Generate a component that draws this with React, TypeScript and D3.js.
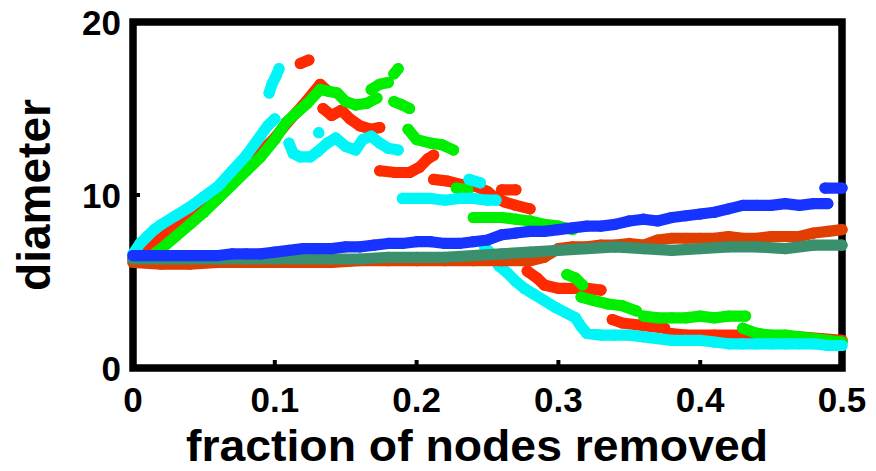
import React from 'react';
import * as d3 from 'd3';

type Pt = [number, number] | null;

// ---- axis ticks ----
const xTicks = [0, 0.1, 0.2, 0.3, 0.4, 0.5];
const xTickLabels = ['0', '0.1', '0.2', '0.3', '0.4', '0.5'];
const yTicks = [0, 10, 20];
const yTickLabels = ['0', '10', '20'];
const xTitle = 'fraction of nodes removed';
const yTitle = 'diameter';

// ---- series (null = gap between runs of markers) ----
const redAttack: Pt[] = [
  [0, 6.3], [0.01, 6.9], [0.02, 7.5], [0.03, 8.2], [0.04, 8.9], [0.05, 9.6], [0.06, 10.3], [0.07, 11.0],
  [0.08, 11.7], [0.09, 12.5], [0.1, 13.3], [0.11, 14.3], [0.12, 15.2], [0.127, 15.9], [0.132, 16.4], [0.136, 16.1],
  null,
  [0.118, 17.6], [0.124, 17.8],
  null,
  [0.134, 15.0], [0.14, 14.6], [0.147, 14.9], [0.153, 14.4], [0.16, 14.0], [0.168, 13.8], [0.174, 13.9],
  null,
  [0.174, 11.4], [0.185, 11.3], [0.195, 11.3], [0.202, 11.6], [0.208, 12.1], [0.212, 12.3],
  null,
  [0.212, 10.9], [0.222, 10.8], [0.232, 10.6], [0.242, 10.5], [0.25, 10.2], [0.256, 9.8], [0.262, 9.6],
  [0.27, 9.4], [0.28, 9.2],
  null,
  [0.26, 10.3], [0.27, 10.3],
  null,
  [0.278, 5.6], [0.285, 5.2], [0.29, 4.8], [0.3, 4.6], [0.31, 4.6], [0.32, 4.6], [0.33, 4.5],
  null,
  [0.338, 2.8], [0.345, 2.6], [0.355, 2.5], [0.365, 2.4], [0.375, 2.3],
  null,
  [0.378, 2.0], [0.39, 1.9], [0.41, 1.9], [0.43, 1.9], [0.45, 1.8], [0.47, 1.8], [0.485, 1.7], [0.5, 1.6],
];

const greenAttack: Pt[] = [
  [0.01, 6.3], [0.02, 6.9], [0.03, 7.6], [0.04, 8.3], [0.05, 9.0], [0.06, 9.8], [0.07, 10.6], [0.08, 11.4],
  [0.09, 12.2], [0.1, 13.2], [0.108, 14.2], [0.116, 14.8], [0.123, 15.3], [0.132, 16.1], [0.138, 16.0],
  [0.144, 15.9], [0.15, 15.4], [0.157, 15.2], [0.165, 15.3], [0.172, 15.6],
  null,
  [0.168, 16.1], [0.174, 16.4], [0.18, 16.5],
  null,
  [0.184, 17.0], [0.187, 17.3],
  null,
  [0.184, 15.4], [0.19, 15.2], [0.195, 15.0],
  null,
  [0.194, 13.8], [0.2, 13.2], [0.21, 13.0], [0.218, 12.9], [0.226, 12.6],
  null,
  [0.228, 10.4], [0.236, 10.3],
  null,
  [0.24, 8.7], [0.25, 8.7], [0.26, 8.7], [0.27, 8.6], [0.28, 8.5], [0.29, 8.3], [0.3, 8.2], [0.31, 8.0],
  null,
  [0.306, 5.4], [0.312, 5.2], [0.317, 4.8],
  null,
  [0.316, 4.1], [0.325, 3.9], [0.335, 3.7], [0.345, 3.6], [0.355, 3.3],
  null,
  [0.36, 3.0], [0.37, 2.9], [0.38, 2.9], [0.39, 2.9], [0.4, 3.0], [0.41, 2.9], [0.42, 3.0], [0.432, 3.0],
  null,
  [0.43, 2.3], [0.44, 2.0], [0.45, 1.9], [0.46, 1.9], [0.47, 1.8], [0.48, 1.7], [0.49, 1.6], [0.5, 1.5],
];

const cyanAttack: Pt[] = [
  [0, 6.6], [0.005, 7.2], [0.01, 7.6], [0.015, 8.0], [0.02, 8.3], [0.03, 8.8], [0.04, 9.3], [0.05, 9.9],
  [0.06, 10.5], [0.07, 11.4], [0.08, 12.3], [0.088, 13.2], [0.095, 14.0], [0.1, 14.4],
  null,
  [0.096, 15.9], [0.098, 16.4], [0.101, 16.9], [0.103, 17.3],
  null,
  [0.11, 13.0], [0.113, 12.4], [0.118, 12.2], [0.125, 12.2], [0.13, 12.5], [0.137, 13.0], [0.143, 13.3],
  [0.15, 12.8], [0.157, 12.6], [0.162, 13.2], [0.168, 13.4], [0.174, 13.0], [0.18, 12.7], [0.187, 12.6],
  null,
  [0.131, 13.6],
  null,
  [0.19, 9.8], [0.2, 9.8], [0.21, 9.8], [0.22, 9.7], [0.23, 9.8], [0.24, 9.8], [0.25, 9.7], [0.256, 9.7],
  null,
  [0.237, 10.9], [0.245, 10.7],
  null,
  [0.248, 7.0], [0.254, 6.5], [0.258, 5.9], [0.264, 5.5], [0.27, 5.0], [0.276, 4.6], [0.282, 4.3],
  [0.29, 3.9], [0.298, 3.5], [0.305, 3.2], [0.312, 2.9], [0.316, 2.4], [0.32, 2.0], [0.33, 1.9], [0.34, 1.9],
  [0.35, 1.9], [0.36, 1.8], [0.37, 1.7], [0.38, 1.6], [0.39, 1.6], [0.4, 1.6], [0.41, 1.5], [0.42, 1.4],
  [0.43, 1.4], [0.44, 1.4], [0.45, 1.4], [0.46, 1.4], [0.47, 1.4], [0.48, 1.4], [0.49, 1.3], [0.5, 1.3],
];

const orangeFailure: Pt[] = [
  [0, 6.1], [0.02, 6.0], [0.04, 6.0], [0.06, 6.1], [0.08, 6.1], [0.1, 6.1], [0.12, 6.1], [0.14, 6.1],
  [0.16, 6.2], [0.18, 6.2], [0.2, 6.2], [0.22, 6.2], [0.24, 6.2], [0.26, 6.2], [0.28, 6.2], [0.29, 6.4],
  [0.3, 6.9], [0.31, 7.0], [0.32, 7.0], [0.33, 7.1], [0.34, 7.1], [0.35, 7.2], [0.36, 7.1], [0.37, 7.4],
  [0.38, 7.5], [0.39, 7.5], [0.4, 7.5], [0.41, 7.5], [0.42, 7.6], [0.43, 7.5], [0.44, 7.5], [0.45, 7.6],
  [0.46, 7.6], [0.47, 7.6], [0.48, 7.8], [0.49, 7.9], [0.5, 8.0],
];

const tealFailure: Pt[] = [
  [0, 6.3], [0.02, 6.3], [0.04, 6.3], [0.06, 6.3], [0.08, 6.3], [0.1, 6.3], [0.12, 6.3], [0.14, 6.3],
  [0.16, 6.3], [0.18, 6.4], [0.2, 6.4], [0.22, 6.4], [0.24, 6.5], [0.26, 6.6], [0.28, 6.7], [0.3, 6.8],
  [0.32, 6.9], [0.34, 7.0], [0.36, 6.9], [0.38, 6.8], [0.4, 6.9], [0.42, 7.0], [0.44, 7.0], [0.46, 6.9],
  [0.48, 7.1], [0.5, 7.1],
];

const blueFailure: Pt[] = [
  [0, 6.5], [0.02, 6.5], [0.04, 6.5], [0.06, 6.5], [0.07, 6.6], [0.08, 6.6], [0.09, 6.6], [0.1, 6.7],
  [0.11, 6.8], [0.12, 6.9], [0.13, 6.9], [0.14, 6.9], [0.15, 7.0], [0.16, 7.0], [0.17, 7.1], [0.18, 7.2],
  [0.19, 7.2], [0.2, 7.3], [0.21, 7.3], [0.22, 7.2], [0.23, 7.2], [0.24, 7.3], [0.25, 7.4], [0.26, 7.7],
  [0.27, 7.8], [0.28, 7.9], [0.29, 7.9], [0.3, 8.0], [0.31, 8.1], [0.32, 8.2], [0.33, 8.2], [0.34, 8.3],
  [0.35, 8.5], [0.36, 8.6], [0.37, 8.5], [0.38, 8.7], [0.39, 8.8], [0.4, 8.9], [0.41, 9.0], [0.42, 9.2],
  [0.43, 9.4], [0.44, 9.4], [0.45, 9.4], [0.46, 9.5], [0.47, 9.4], [0.48, 9.5], [0.49, 9.5],
  null,
  [0.488, 10.4], [0.5, 10.4],
];

const seriesList = [
  { name: 'attack-red', color: '#ff2a00', data: redAttack },
  { name: 'attack-green', color: '#00ee00', data: greenAttack },
  { name: 'attack-cyan', color: '#00f6f6', data: cyanAttack },
  { name: 'failure-orange', color: '#e03f00', data: orangeFailure },
  { name: 'failure-teal', color: '#3a906c', data: tealFailure },
  { name: 'failure-blue', color: '#1733ff', data: blueFailure },
];

const W = 876;
const H = 471;
const LEFT = 133;
const RIGHT = 842;
const TOP = 22;
const BOTTOM = 368;
const FONT = '"Liberation Sans", Arial, Helvetica, sans-serif';

export default function App() {
  const x = d3.scaleLinear().domain([0, 0.5]).range([LEFT, RIGHT]);
  const y = d3.scaleLinear().domain([0, 20]).range([BOTTOM, TOP]);
  const line = d3
    .line<Pt>()
    .defined((d) => d !== null)
    .x((d) => x((d as [number, number])[0]))
    .y((d) => y((d as [number, number])[1]));

  const markerR = 5.6;

  return (
    <svg
      width={W}
      height={H}
      viewBox={`0 0 ${W} ${H}`}
      style={{ position: 'fixed', left: 0, top: 0, background: '#fff' }}
    >
      <rect x={0} y={0} width={W} height={H} fill="#fff" />
      {/* frame */}
      <rect
        x={LEFT}
        y={TOP}
        width={RIGHT - LEFT}
        height={BOTTOM - TOP}
        fill="none"
        stroke="#000"
        strokeWidth={7.5}
        strokeLinejoin="miter"
      />
      {/* inward ticks */}
      {xTicks.slice(1, -1).map((t) => (
        <line key={'xt' + t} x1={x(t)} x2={x(t)} y1={BOTTOM} y2={BOTTOM - 8} stroke="#000" strokeWidth={4} />
      ))}
      {yTicks.slice(1, -1).map((t) => (
        <line key={'yt' + t} x1={LEFT} x2={LEFT + 7} y1={y(t)} y2={y(t)} stroke="#000" strokeWidth={4} />
      ))}
      {/* tick labels */}
      {xTicks.map((t, i) => (
        <text
          key={'xl' + t}
          x={x(t)}
          y={412}
          textAnchor="middle"
          fontFamily={FONT}
          fontWeight="bold"
          fontSize={35}
          fill="#000"
        >
          {xTickLabels[i]}
        </text>
      ))}
      {yTicks.map((t, i) => (
        <text
          key={'yl' + t}
          x={121}
          y={y(t) + 12.5}
          textAnchor="end"
          fontFamily={FONT}
          fontWeight="bold"
          fontSize={35}
          fill="#000"
        >
          {yTickLabels[i]}
        </text>
      ))}
      {/* axis titles */}
      <text
        x={477}
        y={461}
        textAnchor="middle"
        fontFamily={FONT}
        fontWeight="bold"
        fontSize={44}
        textLength={582}
        lengthAdjust="spacingAndGlyphs"
        fill="#000"
      >
        {xTitle}
      </text>
      <text
        transform={`translate(50, 195) rotate(-90)`}
        textAnchor="middle"
        fontFamily={FONT}
        fontWeight="bold"
        fontSize={46}
        fill="#000"
      >
        {yTitle}
      </text>
      {/* data */}
      {seriesList.map((s) => (
        <g key={s.name}>
          <path
            d={line(s.data) || ''}
            fill="none"
            stroke={s.color}
            strokeWidth={markerR * 2}
            strokeLinecap="round"
            strokeLinejoin="round"
          />
          {s.data
            .filter((d): d is [number, number] => d !== null)
            .map((d, i) => (
              <circle key={i} cx={x(d[0])} cy={y(d[1])} r={markerR} fill={s.color} />
            ))}
        </g>
      ))}
    </svg>
  );
}
